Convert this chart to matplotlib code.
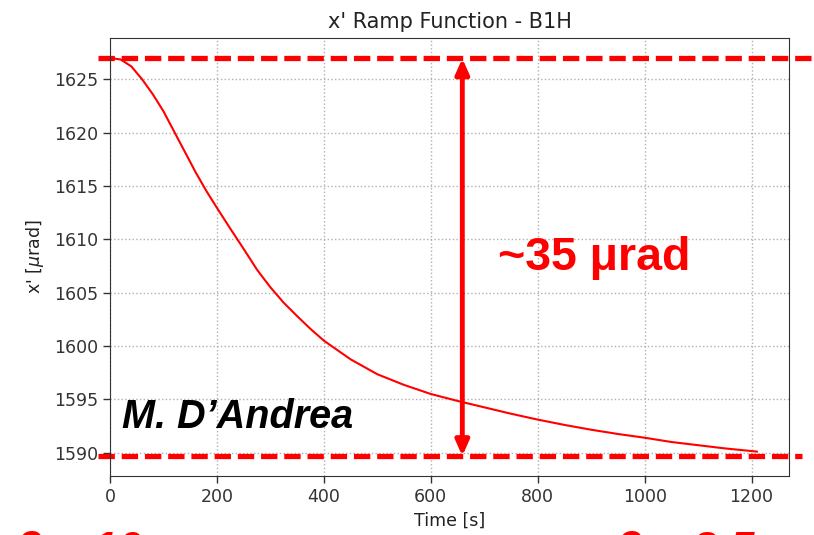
import matplotlib
matplotlib.use("Agg")
import matplotlib.pyplot as plt
from matplotlib.transforms import blended_transform_factory

# x' ramp values
time_s = [0, 20, 40, 60, 80, 100, 120, 140, 160, 180, 200, 225, 250, 275, 300,
          325, 350, 375, 400, 450, 500, 550, 600, 650, 700, 750, 800, 850, 900,
          950, 1000, 1050, 1100, 1150, 1200, 1210]
xprime_urad = [1627.0, 1626.85, 1626.2, 1625.0, 1623.6, 1622.0, 1620.1, 1618.2,
               1616.3, 1614.55, 1612.95, 1611.0, 1609.1, 1607.15, 1605.5, 1604.05,
               1602.8, 1601.6, 1600.5, 1598.75, 1597.35, 1596.35, 1595.5, 1594.85,
               1594.25, 1593.65, 1593.1, 1592.6, 1592.15, 1591.75, 1591.4, 1591.0,
               1590.7, 1590.4, 1590.15, 1590.1]

x_ticks = [0, 200, 400, 600, 800, 1000, 1200]
y_ticks = [1590, 1595, 1600, 1605, 1610, 1615, 1620, 1625]

span_top = 1626.95
span_bottom = 1589.68
span_time = 659
span_label = "~35 \u03bcrad"

fig = plt.figure(figsize=(8.14, 5.35), dpi=100)
ax = fig.add_axes([0.1351, 0.1103, 0.9693 - 0.1351, 0.929 - 0.1103])

ax.plot(time_s, xprime_urad, color="red", lw=1.5)
ax.set_xlim(0, 1270)
ax.set_xticks(x_ticks)
ax.set_yticks(y_ticks)
ax.grid(True, ls=":", color="#b0b0b0", lw=1)
ax.tick_params(labelsize=12.5, colors="#333333", length=5, width=1)
for sp in ax.spines.values():
    sp.set_color("#333333")

ax.set_title("x' Ramp Function - B1H", fontsize=15, color="#222222", pad=7)
ax.set_xlabel("Time [s]", fontsize=12.5, color="#222222", labelpad=4)
ax.set_ylabel(r"x' [$\mu$rad]", fontsize=12.5, color="#222222", labelpad=6)

# dashed reference levels drawn across the figure
tr = blended_transform_factory(fig.transFigure, ax.transData)
dash = dict(color="red", lw=3.8, dashes=(3.1, 1.3), clip_on=False, transform=tr)
ax.plot([98 / 814, 1.0], [span_top, span_top], **dash)
ax.plot([98 / 814, 802 / 814], [span_bottom, span_bottom], **dash)

# double arrow spanning the swing
ax.annotate("", xy=(span_time, span_top), xytext=(span_time, span_bottom),
            arrowprops=dict(arrowstyle="<|-|>,head_length=0.9,head_width=0.4",
                            color="red", lw=3.5, shrinkA=0, shrinkB=0),
            annotation_clip=False)

ax.text(0.571, 0.497, span_label, transform=ax.transAxes, fontsize=33.5,
        fontweight="bold", color="red", family="Liberation Sans",
        va="center", ha="left")
ax.text(0.018, 0.1096, "M. D\u2019Andrea", transform=ax.transAxes, fontsize=28.5,
        fontweight="bold", style="italic", color="black",
        family="Liberation Sans", va="baseline", ha="left")

# lower captions cut by the figure edge
fig.text(15 / 814, -0.052, "\u03b2 = 10 cm", fontsize=32, fontweight="bold",
         style="italic", color="red", family="Liberation Sans", va="baseline")
fig.text(615 / 814, -0.052, "\u03b2 = 2.5 m", fontsize=32, fontweight="bold",
         style="italic", color="red", family="Liberation Sans", va="baseline")

fig.savefig("out.png", dpi=100)
